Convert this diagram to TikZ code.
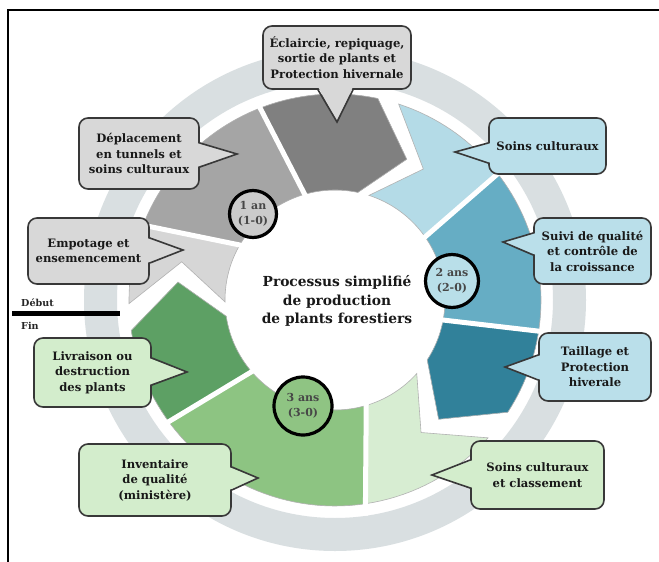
\documentclass[tikz,border=0pt]{standalone}
\usepackage{fontspec}
\setmainfont{DejaVu Serif}
\usetikzlibrary{calc}
\definecolor{ringc}{HTML}{D9DFE1}
\definecolor{lgray}{HTML}{D6D6D6}
\definecolor{mgray}{HTML}{A5A5A5}
\definecolor{dgray}{HTML}{808080}
\definecolor{lblue}{HTML}{B4DBE7}
\definecolor{mblue}{HTML}{66ADC4}
\definecolor{tealc}{HTML}{31819A}
\definecolor{vlgreen}{HTML}{D7EDD2}
\definecolor{mgreen}{HTML}{8DC482}
\definecolor{dgreen}{HTML}{5DA064}
\definecolor{cgray}{HTML}{D8D8D8}
\definecolor{cblue}{HTML}{BADFEA}
\definecolor{cgreen}{HTML}{D3EDCC}
\definecolor{yc1}{HTML}{CBCBCB}
\definecolor{yc2}{HTML}{B9DFE9}
\definecolor{yc3}{HTML}{8FC483}
\newcommand\chevpath[3]{plot[domain=#1:#2,samples=60] (\x:206) -- ({#2+#3}:158) -- plot[domain=#2:#1,samples=60] (\x:110) -- ({#1+#3}:158) -- cycle}
\newcommand\cutfill[3]{\fill[#1] ($({#2}:110)!-0.4!({#3}:206)$) -- ($({#2}:110)!1.5!({#3}:206)$) -- ({#3+30}:330) -- ({#3+60}:330) -- ({#3+90}:330) -- ({#3+120}:330) -- (0,0) -- cycle;}
\newcommand\cutline[2]{\draw[white,line width=5pt] ($({#1}:110)!-0.12!({#2}:206)$) -- ($({#1}:110)!1.12!({#2}:206)$);}
\tikzset{
  callout/.style={draw=black!78, line width=1.6pt, rounded corners=9pt, align=center, inner sep=1pt,
    font=\bfseries\fontsize{11.6}{15.5}\selectfont, text=black!90},
  cg/.style={callout, fill=cgray},
  cb/.style={callout, fill=cblue},
  cgr/.style={callout, fill=cgreen},
  tailline/.style={draw=black!78, line width=1.6pt, line join=miter},
  segline/.style={draw=black!30, line width=0.6pt},
  yearc/.style={circle, draw=black, line width=3.2pt, inner sep=0pt, align=center,
    font=\bfseries\fontsize{11}{14.5}\selectfont, text=black!72},
}
\begin{document}
\begin{tikzpicture}[x=1pt,y=-1pt]
\useasboundingbox (0,0) rectangle (659,562);
\fill[white] (0,0) rectangle (659,562);
% ring
\fill[ringc, even odd rule] (335,300) circle[radius=251] (335,300) circle[radius=218];
% segments
\begin{scope}[shift={(335,300)}]
  % year 1
  \begin{scope}
    \clip \chevpath{179}{282}{15};
    \fill[lgray] (0,0) circle[radius=260];
    \cutfill{mgray}{210}{201.3}
    \cutfill{dgray}{254}{248.7}
  \end{scope}
  \draw[segline] \chevpath{179}{282}{15};
  \cutline{210}{201.3}
  \cutline{254}{248.7}
  % year 2
  \begin{scope}
    \clip \chevpath{288}{393}{16};
    \fill[lblue] (0,0) circle[radius=260];
    \cutfill{mblue}{325}{322.2}
    \cutfill{tealc}{370.5}{368.7}
  \end{scope}
  \draw[segline] \chevpath{288}{393}{16};
  \cutline{325}{322.2}
  \cutline{370.5}{368.7}
  % year 3
  \begin{scope}
    \clip \chevpath{42}{171.5}{15};
    \fill[vlgreen] (0,0) circle[radius=260];
    \cutfill{mgreen}{73.5}{81.5}
    \cutfill{dgreen}{139.3}{143.8}
  \end{scope}
  \draw[segline] \chevpath{42}{171.5}{15};
  \cutline{73.5}{81.5}
  \cutline{139.3}{143.8}
\end{scope}
% year circles
\node[yearc, fill=yc1, minimum size=47pt] (y1) at (253,214) {1 an\\(1-0)};
\node[yearc, fill=yc2, minimum size=53pt] (y2) at (452,281) {2 ans\\(2-0)};
\node[yearc, fill=yc3, minimum size=58pt] (y3) at (303,406) {3 ans\\(3-0)};
% centre text
\node[align=center, font=\bfseries\fontsize{13.8}{18.5}\selectfont, text=black!90] (title) at (337,301)
  {Processus simplifié\\de production\\de plants forestiers};
% callouts
\node[cg, minimum width=148pt, minimum height=63pt] (n1) at (337,57.5) {Éclaircie, repiquage,\\sortie de plants et\\Protection hivernale};
\coordinate (t1) at (337,122);
\fill[cgray] ($(n1.south)+(-19,-3)$) -- (t1) -- ($(n1.south)+(16,-3)$) -- cycle;
\draw[tailline] ($(n1.south)+(-19,0)$) -- (t1) -- ($(n1.south)+(16,0)$);

\node[cg, minimum width=120pt, minimum height=71pt] (n2) at (139,153.5) {Déplacement\\en tunnels et\\soins culturaux};
\coordinate (t2) at (237,154);
\fill[cgray] ($(n2.east)+(-3,-10.5)$) -- (t2) -- ($(n2.east)+(-3,13.5)$) -- cycle;
\draw[tailline] ($(n2.east)+(0,-10.5)$) -- (t2) -- ($(n2.east)+(0,13.5)$);

\node[cg, minimum width=121pt, minimum height=66pt] (n3) at (88.5,251) {Empotage et\\ensemencement};
\coordinate (t3) at (183,250);
\fill[cgray] ($(n3.east)+(-3,-13)$) -- (t3) -- ($(n3.east)+(-3,12)$) -- cycle;
\draw[tailline] ($(n3.east)+(0,-13)$) -- (t3) -- ($(n3.east)+(0,12)$);

\node[cb, minimum width=117pt, minimum height=56pt] (n4) at (547.5,146) {Soins culturaux};
\coordinate (t4) at (455,152);
\fill[cblue] ($(n4.west)+(3,-3)$) -- (t4) -- ($(n4.west)+(3,17)$) -- cycle;
\draw[tailline] ($(n4.west)+(0,-3)$) -- (t4) -- ($(n4.west)+(0,17)$);

\node[cb, minimum width=117pt, minimum height=66pt] (n5) at (592.5,251) {Suivi de qualité\\et contrôle de\\la croissance};
\coordinate (t5) at (503,242);
\fill[cblue] ($(n5.west)+(3,-18)$) -- (t5) -- ($(n5.west)+(3,4)$) -- cycle;
\draw[tailline] ($(n5.west)+(0,-18)$) -- (t5) -- ($(n5.west)+(0,4)$);

\node[cb, minimum width=112pt, minimum height=68pt] (n6) at (595,367) {Taillage et\\Protection\\hiverale};
\coordinate (t6) at (505,367);
\fill[cblue] ($(n6.west)+(3,-12)$) -- (t6) -- ($(n6.west)+(3,13)$) -- cycle;
\draw[tailline] ($(n6.west)+(0,-12)$) -- (t6) -- ($(n6.west)+(0,13)$);

\node[cgr, minimum width=133pt, minimum height=68pt] (n7) at (537.5,475) {Soins culturaux\\et classement};
\coordinate (t7) at (432,475);
\fill[cgreen] ($(n7.west)+(3,-15)$) -- (t7) -- ($(n7.west)+(3,13)$) -- cycle;
\draw[tailline] ($(n7.west)+(0,-15)$) -- (t7) -- ($(n7.west)+(0,13)$);

\node[cgr, minimum width=152pt, minimum height=72pt] (n8) at (155,480) {Inventaire\\de qualité\\(ministère)};
\coordinate (t8) at (258,478);
\fill[cgreen] ($(n8.east)+(-3,-13)$) -- (t8) -- ($(n8.east)+(-3,10)$) -- cycle;
\draw[tailline] ($(n8.east)+(0,-13)$) -- (t8) -- ($(n8.east)+(0,10)$);

\node[cgr, minimum width=117pt, minimum height=69pt] (n9) at (92.5,372.5) {Livraison ou\\destruction\\des plants};
\coordinate (t9) at (187,372);
\fill[cgreen] ($(n9.east)+(-3,-14.5)$) -- (t9) -- ($(n9.east)+(-3,12.5)$) -- cycle;
\draw[tailline] ($(n9.east)+(0,-14.5)$) -- (t9) -- ($(n9.east)+(0,12.5)$);
% debut / fin
\draw[line width=5.5pt] (12,313.5) -- (120,313.5);
\node[anchor=base west, inner sep=0pt, font=\bfseries\fontsize{9.6}{10}\selectfont, text=black!85] (debut) at (21,306) {Début};
\node[anchor=base west, inner sep=0pt, font=\bfseries\fontsize{9.6}{10}\selectfont, text=black!85] (fin) at (21,329) {Fin};
% frame
\draw[line width=2.4pt, line join=miter] (8,562) -- (8,10) -- (659,10);
\end{tikzpicture}
\end{document}
